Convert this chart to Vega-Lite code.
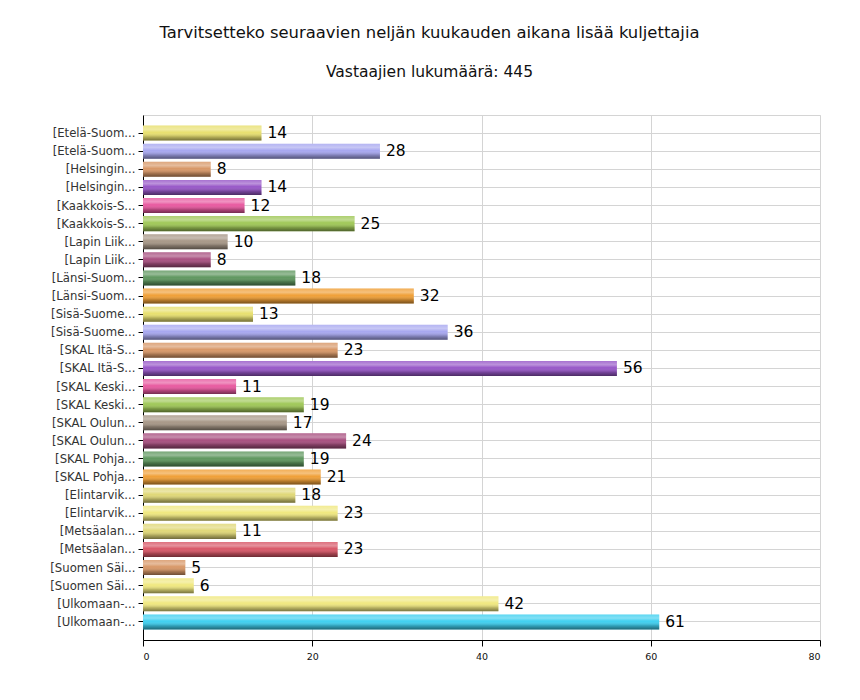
{
  "$schema": "https://vega.github.io/schema/vega-lite/v6.json",
  "width": 677,
  "height": 525,
  "autosize": {"type": "none"},
  "padding": {"left": 143, "top": 115, "right": 40, "bottom": 60},
  "background": "white",
  "config": {
    "view": {"stroke": "#d4d4d4", "strokeWidth": 1},
    "font": "DejaVu Sans"
  },
  "title": {
    "text": "Tarvitsetteko seuraavien neljän kuukauden aikana lisää kuljettajia",
    "subtitle": "Vastaajien lukumäärä: 445",
    "anchor": "middle",
    "frame": "group",
    "dx": -52,
    "offset": 35,
    "font": "DejaVu Sans",
    "fontSize": 16.4,
    "fontWeight": "normal",
    "color": "#111111",
    "subtitleFont": "DejaVu Sans",
    "subtitleFontSize": 15.5,
    "subtitleColor": "#111111",
    "subtitlePadding": 23
  },
  "data": {
    "values": [
      {"order": 1, "name": "[Etelä-Suom...", "value": 14},
      {"order": 2, "name": "[Etelä-Suom...\u200b", "value": 28},
      {"order": 3, "name": "[Helsingin...", "value": 8},
      {"order": 4, "name": "[Helsingin...\u200b", "value": 14},
      {"order": 5, "name": "[Kaakkois-S...", "value": 12},
      {"order": 6, "name": "[Kaakkois-S...\u200b", "value": 25},
      {"order": 7, "name": "[Lapin Liik...", "value": 10},
      {"order": 8, "name": "[Lapin Liik...\u200b", "value": 8},
      {"order": 9, "name": "[Länsi-Suom...", "value": 18},
      {"order": 10, "name": "[Länsi-Suom...\u200b", "value": 32},
      {"order": 11, "name": "[Sisä-Suome...", "value": 13},
      {"order": 12, "name": "[Sisä-Suome...\u200b", "value": 36},
      {"order": 13, "name": "[SKAL Itä-S...", "value": 23},
      {"order": 14, "name": "[SKAL Itä-S...\u200b", "value": 56},
      {"order": 15, "name": "[SKAL Keski...", "value": 11},
      {"order": 16, "name": "[SKAL Keski...\u200b", "value": 19},
      {"order": 17, "name": "[SKAL Oulun...", "value": 17},
      {"order": 18, "name": "[SKAL Oulun...\u200b", "value": 24},
      {"order": 19, "name": "[SKAL Pohja...", "value": 19},
      {"order": 20, "name": "[SKAL Pohja...\u200b", "value": 21},
      {"order": 21, "name": "[Elintarvik...", "value": 18},
      {"order": 22, "name": "[Elintarvik...\u200b", "value": 23},
      {"order": 23, "name": "[Metsäalan...", "value": 11},
      {"order": 24, "name": "[Metsäalan...\u200b", "value": 23},
      {"order": 25, "name": "[Suomen Säi...", "value": 5},
      {"order": 26, "name": "[Suomen Säi...\u200b", "value": 6},
      {"order": 27, "name": "[Ulkomaan-...", "value": 42},
      {"order": 28, "name": "[Ulkomaan-...\u200b", "value": 61}
    ]
  },
  "encoding": {
    "y": {
      "field": "name",
      "type": "nominal",
      "sort": {"field": "order", "order": "ascending"},
      "title": null,
      "scale": {"paddingInner": 0.17, "paddingOuter": 0.585},
      "axis": {
        "domainColor": "#000000",
        "tickColor": "#000000",
        "tickSize": 5,
        "labelPadding": 3,
        "labelFontSize": 11.7,
        "labelColor": "#333333",
        "labelFont": "DejaVu Sans",
        "grid": true,
        "gridColor": "#d4d4d4",
        "bandPosition": 0.5
      }
    },
    "x": {
      "field": "value",
      "type": "quantitative",
      "title": null,
      "scale": {"domain": [0, 80], "nice": false},
      "axis": {
        "values": [0, 20, 40, 60, 80],
        "domainColor": "#000000",
        "tickColor": "#000000",
        "tickSize": 6,
        "labelFontSize": 9.5,
        "labelColor": "#111111",
        "labelPadding": 5,
        "gridColor": "#d4d4d4"
      }
    }
  },
  "layer": [
    {
      "mark": {"type": "bar", "cornerRadius": 0},
      "encoding": {
        "color": {
          "field": "name",
          "type": "nominal",
          "legend": null,
          "scale": {
            "domain": [
              "[Etelä-Suom...", "[Etelä-Suom...\u200b", "[Helsingin...", "[Helsingin...\u200b",
              "[Kaakkois-S...", "[Kaakkois-S...\u200b", "[Lapin Liik...", "[Lapin Liik...\u200b",
              "[Länsi-Suom...", "[Länsi-Suom...\u200b", "[Sisä-Suome...", "[Sisä-Suome...\u200b",
              "[SKAL Itä-S...", "[SKAL Itä-S...\u200b", "[SKAL Keski...", "[SKAL Keski...\u200b",
              "[SKAL Oulun...", "[SKAL Oulun...\u200b", "[SKAL Pohja...", "[SKAL Pohja...\u200b",
              "[Elintarvik...", "[Elintarvik...\u200b", "[Metsäalan...", "[Metsäalan...\u200b",
              "[Suomen Säi...", "[Suomen Säi...\u200b", "[Ulkomaan-...", "[Ulkomaan-...\u200b"
            ],
            "range": [
              "#e8e070", "#a8a8f0", "#d89868", "#9858c8",
              "#e85aa0", "#a0c858", "#a89888", "#a85080",
              "#609860", "#f0a038", "#e8e070", "#a8a8f0",
              "#d89868", "#9858c8", "#e85aa0", "#a0c858",
              "#a89888", "#a85080", "#609860", "#f0a038",
              "#e0d878", "#f0e880", "#e0d878", "#d85868",
              "#d89868", "#f0e880", "#f0e880", "#40d0f0"
            ]
          }
        }
      }
    },
    {
      "mark": {
        "type": "bar",
        "color": {
          "gradient": "linear",
          "x1": 0, "y1": 0, "x2": 0, "y2": 1,
          "stops": [
            {"offset": 0, "color": "rgba(255,255,255,0.15)"},
            {"offset": 0.25, "color": "rgba(255,255,255,0.35)"},
            {"offset": 0.45, "color": "rgba(255,255,255,0)"},
            {"offset": 0.75, "color": "rgba(0,0,0,0.22)"},
            {"offset": 1, "color": "rgba(0,0,0,0.5)"}
          ]
        }
      }
    },
    {
      "mark": {"type": "text", "align": "left", "baseline": "middle", "dx": 6, "fontSize": 15.5, "font": "DejaVu Sans", "color": "#000000"},
      "encoding": {"text": {"field": "value", "type": "quantitative"}}
    }
  ]
}
